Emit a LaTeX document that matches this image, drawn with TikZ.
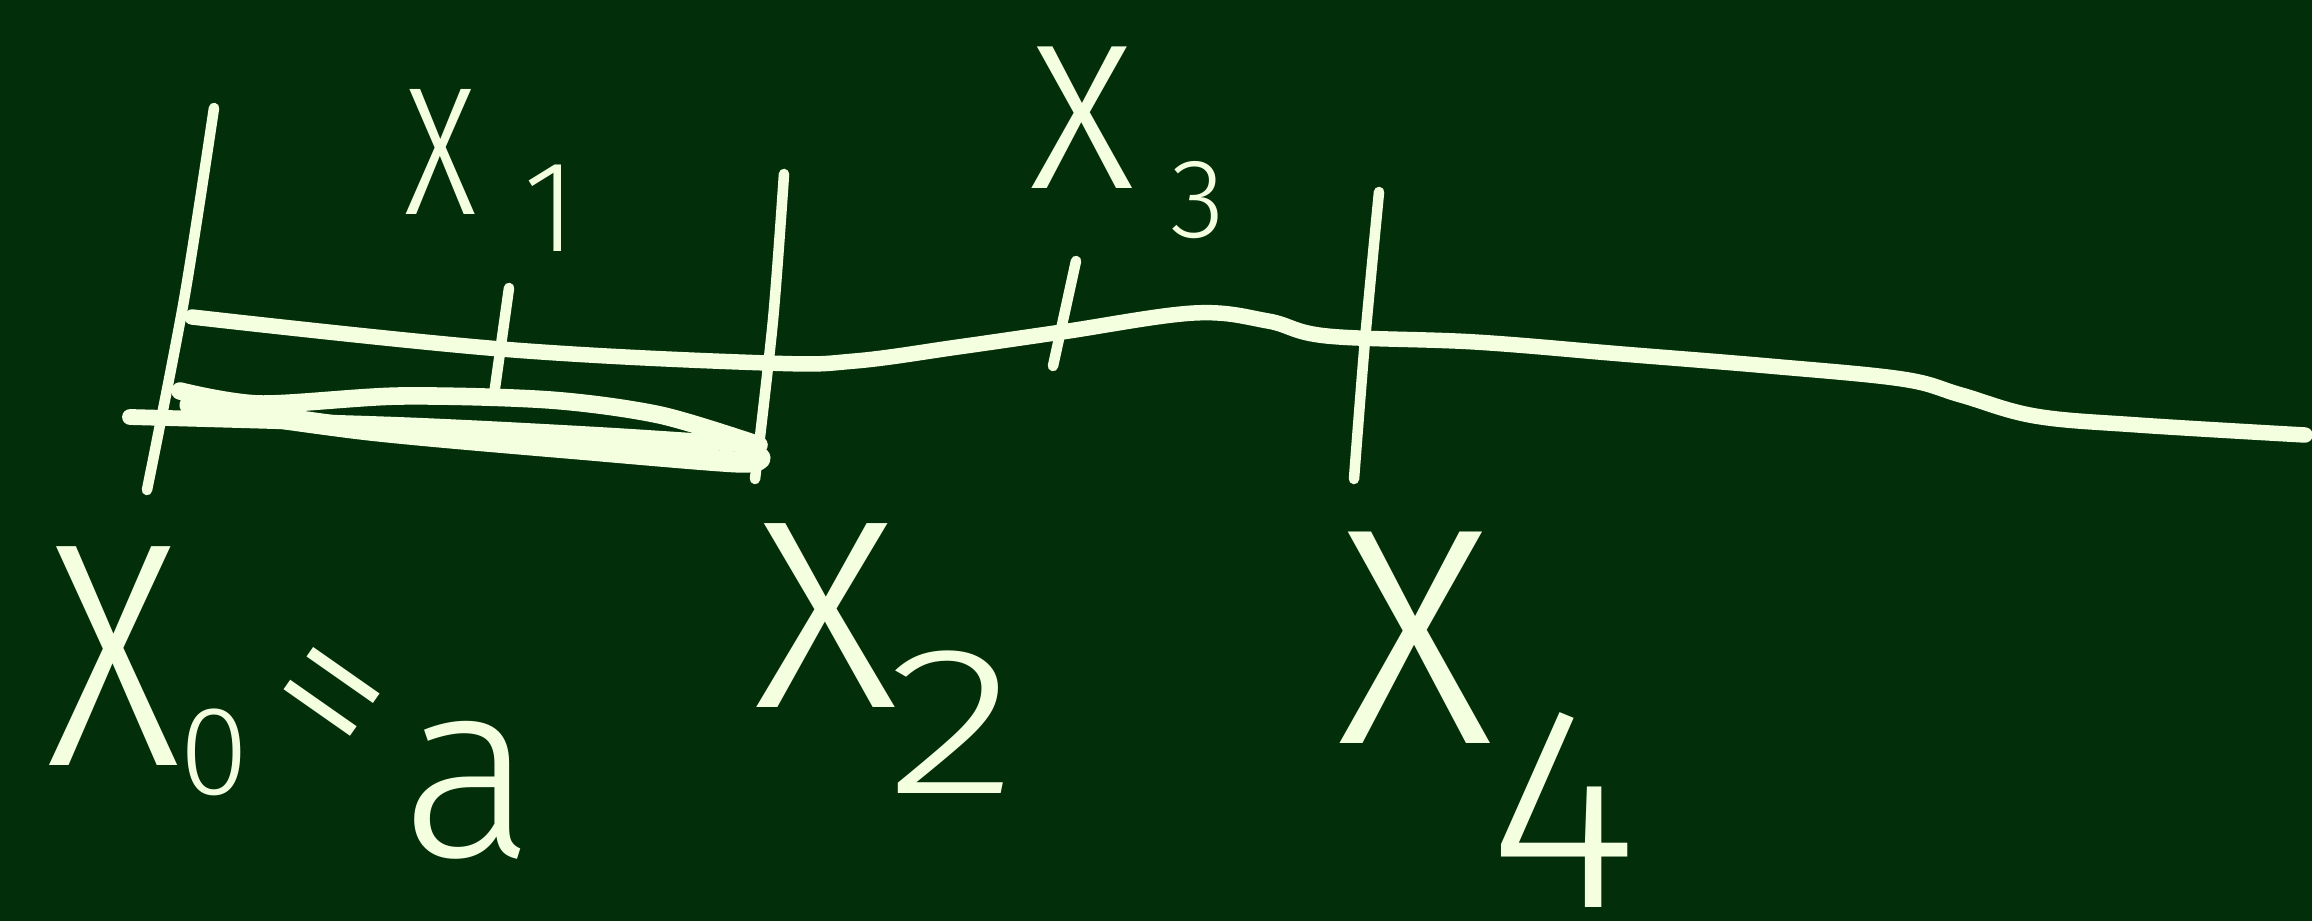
\documentclass[tikz,border=0pt]{standalone}
\usepackage{xcolor}
\usepackage{fontspec}
\usepackage{tikz}
\usetikzlibrary{positioning,calc}
\newfontfamily\handfont{Fira Sans Light}
\definecolor{BoardGreen}{RGB}{2, 47, 9}
\definecolor{ChalkCream}{RGB}{244, 255, 224}
\newcommand{\handx}[2]{\fontsize{#1}{#1}\selectfont\scalebox{#2}[1]{x}}

\begin{document}
\begin{tikzpicture}[x=0.01cm, y=-0.01cm]
  \tikzstyle{chalk} = [draw=ChalkCream, line width=4.4pt, line cap=round, line join=round]
  \tikzstyle{tickmark} = [chalk, line width=3pt]
  \tikzstyle{glyph} = [text=ChalkCream, inner sep=0pt, font=\handfont]

  \fill[BoardGreen] (0,0) rectangle (2312,921);
  \useasboundingbox (0,0) rectangle (2312,921);

  % the line
  \draw[chalk] plot[smooth, tension=0.6] coordinates {(192,317) (501,349) (767,363) (855,361) (958,347) (1062,332) (1194,313) (1268,321) (1327,336) (1475,342) (1622,354) (1769,366) (1902,379) (1961,395) (2035,416) (2138,425) (2305,435)};

  % scribbled bar under the first two cells
  \draw[chalk, line width=5pt] plot[smooth, tension=0.5] coordinates {(180,391) (260,404) (400,396) (550,400) (660,415) (759,445)};
  \draw[chalk, line width=4.5pt] plot[smooth, tension=0.5] coordinates {(130,417) (400,425) (600,435) (752,445)};
  \draw[chalk, line width=6pt] plot[smooth, tension=0.5] coordinates {(190,405) (369,430) (590,450) (737,462) (760,458)};

  % ticks
  \draw[tickmark] plot[smooth] coordinates {(214,108) (184,300) (147,490)};
  \draw[tickmark] (509,288) -- (494,395);
  \draw[tickmark] plot[smooth] coordinates {(784,174) (773,320) (755,479)};
  \draw[tickmark] (1076,261) -- (1053,366);
  \draw[tickmark] plot[smooth] coordinates {(1379,192) (1365,340) (1354,479)};

  % labels
  \node[glyph] (x1) at (441,152) {\handx{68}{0.66}};
  \node[glyph, font=\handfont\fontsize{37}{37}\selectfont] (x1sub) at (550,208) {1};
  \node[glyph] (x3) at (1082,118) {\handx{77}{0.85}};
  \node[glyph, font=\handfont\fontsize{32}{32}\selectfont] (x3sub) at (1198,200) {3};

  \node[glyph] (x0) at (114,656) {\handx{119}{0.7}};
  \node[glyph, font=\handfont\fontsize{36}{36}\selectfont] (x0sub) at (214,752) {0};
  \node[glyph, font=\handfont\fontsize{65}{65}\selectfont, rotate=-35] (eqsign) at (318,712) {=};
  \node[glyph, font=\handfont\fontsize{72}{72}\selectfont] (aval) at (468,790) {a};

  \node[glyph] (x2) at (826,616) {\handx{100}{0.9}};
  \node[glyph, font=\handfont\fontsize{60}{60}\selectfont] (x2sub) at (952,722) {\scalebox{1.3}[1]{2}};
  \node[glyph] (x4) at (1415,638) {\handx{115}{0.85}};
  \node[glyph, font=\handfont\fontsize{82}{82}\selectfont] (x4sub) at (1563,810) {4};
\end{tikzpicture}
\end{document}
